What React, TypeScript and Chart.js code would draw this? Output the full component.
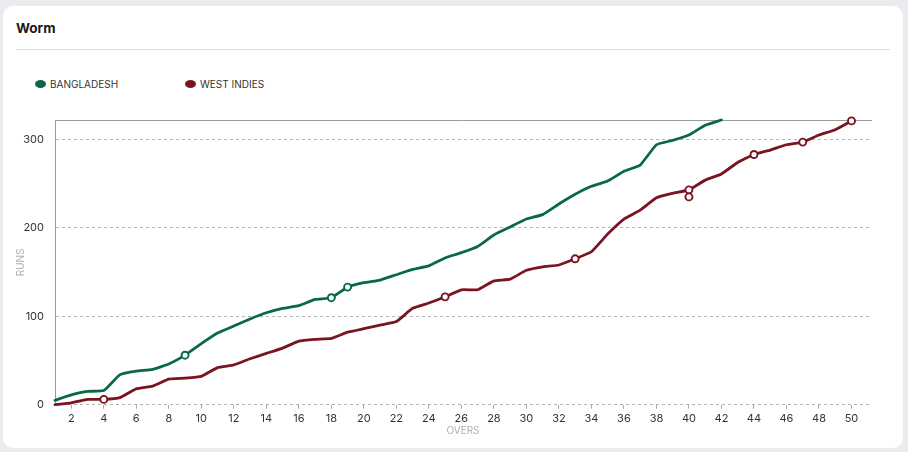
import React, { useEffect, useRef } from "react";
import { Chart, registerables } from "chart.js";

Chart.register(...registerables);

// ---- data ----
const teams = ["BANGLADESH", "WEST INDIES"];
const teamColors = ["#0b6847", "#7a1421"];

const overs = [
  1, 2, 3, 4, 5, 6, 7, 8, 9, 10, 11, 12, 13, 14, 15, 16, 17, 18, 19, 20, 21, 22, 23, 24, 25,
  26, 27, 28, 29, 30, 31, 32, 33, 34, 35, 36, 37, 38, 39, 40, 41, 42, 43, 44, 45, 46, 47, 48, 49, 50,
];

const bangladeshRuns = [
  5, 11, 15, 16, 34, 38, 40, 46, 56, 69, 81, 89, 97, 104, 109, 112, 119, 121, 133, 138, 141,
  147, 153, 157, 166, 172, 179, 192, 201, 210, 215, 227, 238, 247, 253, 264, 271, 294, 299,
  305, 316, 322,
];

const westIndiesRuns = [
  0, 2, 6, 6, 8, 18, 21, 29, 30, 32, 42, 45, 52, 58, 64, 72, 74, 75, 82, 86, 90, 94, 109,
  115, 122, 130, 130, 140, 142, 152, 156, 158, 165, 173, 193, 210, 220, 234, 239, 243, 254,
  261, 274, 283, 288, 294, 297, 305, 311, 321,
];

const bangladeshWicketOvers = [9, 18, 19];
const bangladeshWicketRuns = [56, 121, 133];

const westIndiesWicketOvers = [4, 25, 33, 40, 40, 44, 47, 50];
const westIndiesWicketRuns = [6, 122, 165, 243, 235, 283, 297, 321];

const overTicks = [2, 4, 6, 8, 10, 12, 14, 16, 18, 20, 22, 24, 26, 28, 30, 32, 34, 36, 38, 40, 42, 44, 46, 48, 50];
const runTicks = [0, 100, 200, 300];

const FONT = "Inter, 'Noto Sans', 'Liberation Sans', sans-serif";

const toPoints = (xs: number[], ys: number[]) => ys.map((y, i) => ({ x: xs[i], y }));

export default function App() {
  const canvasRef = useRef<HTMLCanvasElement | null>(null);

  useEffect(() => {
    if (!canvasRef.current) return;
    const maxRuns = Math.max(...bangladeshRuns, ...westIndiesRuns);

    const lineBase = {
      pointRadius: 0,
      pointHoverRadius: 0,
      borderWidth: 2.8,
      tension: 0.12,
      borderJoinStyle: "round" as const,
      borderCapStyle: "round" as const,
      fill: false,
      clip: false,
      order: 2,
    };
    const wicketBase = {
      showLine: false,
      pointRadius: 3.5,
      pointHoverRadius: 3.5,
      pointBackgroundColor: "#ffffff",
      pointBorderWidth: 1.9,
      clip: false,
      order: 0,
    };

    const chart = new Chart(canvasRef.current, {
      type: "line",
      data: {
        datasets: [
          {
            ...lineBase,
            label: teams[0],
            data: toPoints(overs, bangladeshRuns),
            borderColor: teamColors[0],
            backgroundColor: teamColors[0],
          },
          {
            ...lineBase,
            label: teams[1],
            data: toPoints(overs, westIndiesRuns),
            borderColor: teamColors[1],
            backgroundColor: teamColors[1],
          },
          {
            ...wicketBase,
            label: teams[0] + " wickets",
            data: toPoints(bangladeshWicketOvers, bangladeshWicketRuns),
            borderColor: teamColors[0],
            pointBorderColor: teamColors[0],
          },
          {
            ...wicketBase,
            label: teams[1] + " wickets",
            data: toPoints(westIndiesWicketOvers, westIndiesWicketRuns),
            borderColor: teamColors[1],
            pointBorderColor: teamColors[1],
          },
        ] as any,
      },
      options: {
        animation: false,
        responsive: true,
        maintainAspectRatio: false,
        layout: { padding: { left: 10, right: 37, top: 20, bottom: 5 } },
        plugins: {
          legend: { display: false },
          tooltip: { enabled: false },
        },
        scales: {
          x: {
            type: "linear",
            min: 1,
            max: 51.2,
            afterBuildTicks: (s: any) => {
              s.ticks = overTicks.map((v) => ({ value: v }));
            },
            afterFit: (s: any) => {
              s.height = 40.3;
            },
            grid: {
              drawOnChartArea: false,
              drawTicks: true,
              tickLength: 4,
              color: "#a8a8a8",
            },
            border: { display: false },
            ticks: {
              color: "#333333",
              font: { family: FONT, size: 11 },
              padding: 3,
              maxRotation: 0,
              autoSkip: false,
            },
            title: {
              display: true,
              text: "OVERS",
              color: "#b0b0b0",
              font: { family: FONT, size: 10 },
              padding: { top: 0, bottom: 8 },
            },
          },
          x2: {
            type: "linear",
            position: "top",
            min: 1,
            max: 51.2,
            afterFit: (s: any) => {
              s.height = 0;
            },
            grid: { display: false },
            ticks: { display: false },
            border: { display: true, color: "#9a9a9a", width: 1 },
          },
          y: {
            type: "linear",
            min: 0,
            max: maxRuns,
            afterBuildTicks: (s: any) => {
              s.ticks = runTicks.map((v) => ({ value: v }));
            },
            afterFit: (s: any) => {
              s.width = 45;
            },
            grid: {
              color: "#b3b3b3",
              lineWidth: 1,
              drawTicks: false,
            },
            border: { display: true, color: "#9a9a9a", width: 1, dash: [3, 3] },
            ticks: {
              color: "#333333",
              font: { family: FONT, size: 11 },
              padding: 11,
            },
            title: {
              display: true,
              text: "RUNS",
              color: "#b0b0b0",
              font: { family: FONT, size: 10 },
              padding: { top: 5, bottom: 0 },
            },
          },
        },
      } as any,
    });

    return () => chart.destroy();
  }, []);

  return (
    <div
      style={{
        position: "fixed",
        left: 0,
        top: 0,
        width: 908,
        height: 452,
        background: "#ebebef",
        fontFamily: FONT,
        overflow: "hidden",
      }}
    >
      <div
        style={{
          position: "absolute",
          left: 3,
          top: 6,
          width: 900,
          height: 442,
          background: "#ffffff",
          borderRadius: 10,
        }}
      />
      <div
        style={{
          position: "absolute",
          left: 16,
          top: 20,
          fontSize: 13.5,
          lineHeight: "16px",
          fontWeight: 700,
          color: "#1a1a1a",
        }}
      >
        Worm
      </div>
      <div
        style={{
          position: "absolute",
          left: 16,
          top: 49,
          width: 874,
          height: 1,
          background: "#dcdcdc",
        }}
      />
      <div
        style={{
          position: "absolute",
          left: 35,
          top: 78,
          display: "flex",
          alignItems: "center",
        }}
      >
        {teams.map((t, i) => (
          <div key={t} style={{ width: 150, display: "flex", alignItems: "center" }}>
            <span
              style={{
                display: "inline-block",
                width: 11,
                height: 8,
                borderRadius: "50%",
                background: teamColors[i],
                marginRight: 4,
              }}
            />
            <span
              style={{
                fontSize: 10,
                lineHeight: "12px",
                color: "#333333",
                letterSpacing: 0,
              }}
            >
              {t}
            </span>
          </div>
        ))}
      </div>
      <div style={{ position: "absolute", left: 0, top: 100, width: 908, height: 350 }}>
        <canvas ref={canvasRef} />
      </div>
    </div>
  );
}
